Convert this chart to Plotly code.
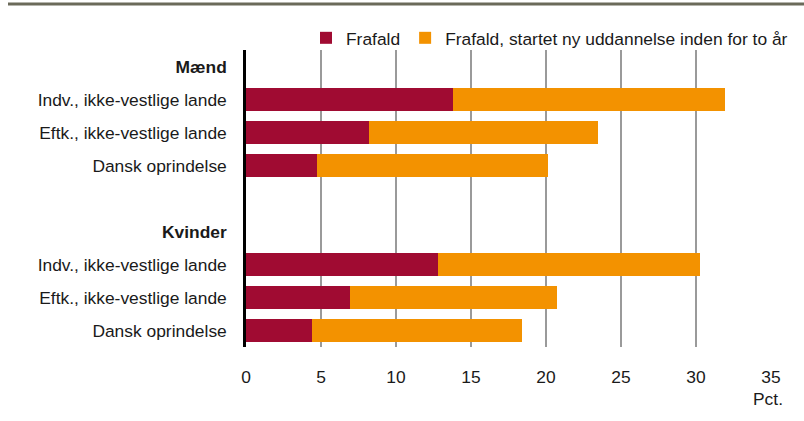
import plotly.graph_objects as go

# Data
categories = ["<b>Mænd</b>", "Indv., ikke-vestlige lande", "Eftk., ikke-vestlige lande",
              "Dansk oprindelse", "", "<b>Kvinder</b>", "Indv., ikke-vestlige lande",
              "Eftk., ikke-vestlige lande", "Dansk oprindelse"]
frafald = [None, 13.8, 8.2, 4.7, None, None, 12.8, 6.9, 4.4]
frafald_ny = [None, 18.15, 15.25, 15.45, None, None, 17.45, 13.85, 14.0]
series_names = ["Frafald", "Frafald, startet ny uddannelse inden for to år"]
x_ticks = [0, 5, 10, 15, 20, 25, 30, 35]

pos = list(range(len(categories)))
FONT = "Liberation Sans, Arial, sans-serif"
RED = "#a00b32"
ORANGE = "#f39200"
FS = 17.4

fig = go.Figure()
fig.add_trace(go.Bar(y=pos, x=frafald, orientation="h", name=series_names[0],
                     marker=dict(color=RED, line=dict(width=0))))
fig.add_trace(go.Bar(y=pos, x=frafald_ny, orientation="h", name=series_names[1],
                     marker=dict(color=ORANGE, line=dict(width=0))))

W, H = 804, 421
L, R, T, B = 246, 33, 50, 74
pw, ph = W - L - R, H - T - B

fig.update_layout(
    width=W, height=H,
    margin=dict(l=L, r=R, t=T, b=B, autoexpand=False),
    barmode="stack", bargap=0.333,
    plot_bgcolor="white", paper_bgcolor="white",
    font=dict(family=FONT, size=FS, color="#1a1a1a"),
    showlegend=True,
    legend=dict(orientation="h", xref="container", yref="container",
                x=793 / W, xanchor="right", y=1 - 38 / H, yanchor="middle",
                font=dict(size=FS), itemwidth=30, traceorder="normal",
                bgcolor="rgba(0,0,0,0)"),
    xaxis=dict(range=[0, 35], tickvals=x_ticks, showgrid=True, gridcolor="#9a9a9a",
               gridwidth=1.5, zeroline=False, showline=False, ticks="",
               ticklabelstandoff=18, tickfont=dict(size=FS)),
    yaxis=dict(tickvals=pos, ticktext=categories, range=[len(categories) - 0.5, -0.5],
               showgrid=False, zeroline=False, showline=True, linecolor="black",
               linewidth=2.5, ticks="", ticklabelstandoff=13, tickfont=dict(size=FS)),
)

# Top rule
fig.add_shape(type="line", xref="paper", yref="paper",
              x0=(8 - L) / pw, x1=(W - L) / pw,
              y0=(H - B - 4) / ph, y1=(H - B - 4) / ph,
              line=dict(color="#6b6a5a", width=3))

# Unit label
fig.add_annotation(text="Pct.", xref="paper", yref="paper",
                   x=(785 - L) / pw, xanchor="right",
                   y=(H - B - 399) / ph, yanchor="middle",
                   showarrow=False, font=dict(size=FS, family=FONT, color="#1a1a1a"))

fig.write_html("out.html", config={"displayModeBar": False},
               post_script="document.body.style.margin='0';")
